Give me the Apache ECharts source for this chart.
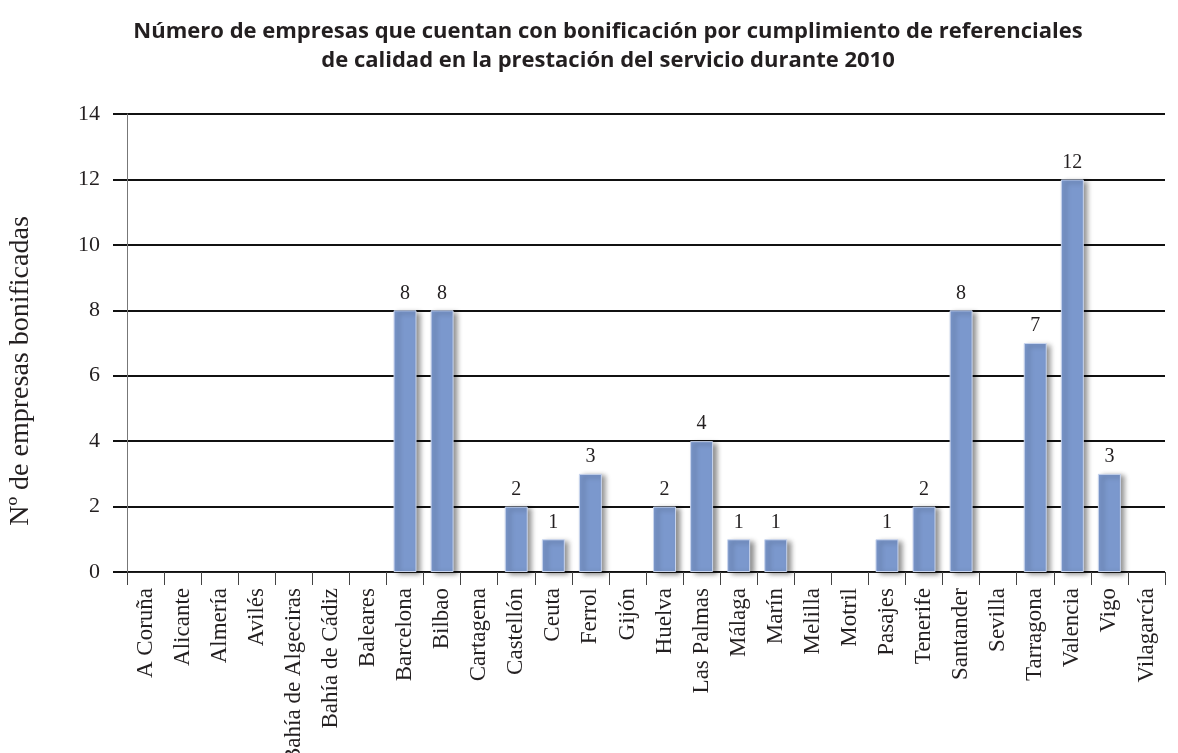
<!DOCTYPE html>
<html>
<head>
<meta charset="utf-8">
<script src="https://cdn.jsdelivr.net/npm/echarts@6/dist/echarts.min.js"></script>
<style>
  html, body { margin: 0; padding: 0; background: #fff; }
  #main { width: 1178px; height: 753px; }
</style>
</head>
<body>
<div id="main"></div>
<script>
var puertos = ['A Coruña', 'Alicante', 'Almería', 'Avilés', 'Bahía de Algeciras', 'Bahía de Cádiz',
  'Baleares', 'Barcelona', 'Bilbao', 'Cartagena', 'Castellón', 'Ceuta', 'Ferrol', 'Gijón', 'Huelva',
  'Las Palmas', 'Málaga', 'Marín', 'Melilla', 'Motril', 'Pasajes', 'Tenerife', 'Santander', 'Sevilla',
  'Tarragona', 'Valencia', 'Vigo', 'Vilagarcía'];
var empresas = [0, 0, 0, 0, 0, 0, 0, 8, 8, 0, 2, 1, 3, 0, 2, 4, 1, 1, 0, 0, 1, 2, 8, 0, 7, 12, 3, 0];

var serif = '"Liberation Serif", "DejaVu Serif", serif';

var myChart = echarts.init(document.getElementById('main'));
var option = {
  backgroundColor: '#fff',
  title: {
    text: 'Número de empresas que cuentan con bonificación por cumplimiento de referenciales\nde calidad en la prestación del servicio durante 2010',
    left: 603,
    textAlign: 'center',
    top: 12,
    textStyle: {
      fontFamily: '"Open Sans", sans-serif',
      fontWeight: 'bold',
      fontSize: 22,
      lineHeight: 29,
      color: '#231f20'
    }
  },
  grid: { left: 127, right: 13, top: 114, bottom: 181, outerBoundsMode: 'none', containLabel: false },
  xAxis: {
    type: 'category',
    data: puertos,
    axisLine: { show: true, lineStyle: { color: '#222', width: 1 } },
    axisTick: { show: true, length: 13, lineStyle: { color: '#444', width: 1 } },
    axisLabel: {
      rotate: 90,
      margin: 16,
      fontFamily: serif,
      fontSize: 23,
      color: '#231f20'
    }
  },
  yAxis: {
    type: 'value',
    min: 0,
    max: 14,
    interval: 2,
    name: 'Nº de empresas bonificadas',
    nameLocation: 'middle',
    nameGap: 92,
    nameTextStyle: { fontFamily: serif, fontSize: 28, color: '#231f20', padding: [0, 56, 0, 0] },
    axisLine: { show: true, lineStyle: { color: '#777', width: 1 } },
    axisTick: { show: true, length: 14, lineStyle: { color: '#111', width: 2 } },
    splitLine: { show: true, lineStyle: { color: '#111', width: 2 } },
    axisLabel: { margin: 27, fontFamily: serif, fontSize: 22, color: '#231f20' }
  },
  series: [{
    type: 'bar',
    data: empresas.map(function (v) { return v > 0 ? v : '-'; }),
    barWidth: '62%',
    itemStyle: {
      color: '#7b98cd',
      borderColor: '#c9d5ee',
      borderWidth: 1,
      shadowColor: 'rgba(0,0,0,0.45)',
      shadowBlur: 5,
      shadowOffsetX: 4,
      shadowOffsetY: 2
    },
    label: {
      show: true,
      position: 'top',
      distance: 7,
      fontFamily: serif,
      fontSize: 20,
      color: '#231f20'
    }
  }]
};
myChart.setOption(option);
</script>
</body>
</html>
